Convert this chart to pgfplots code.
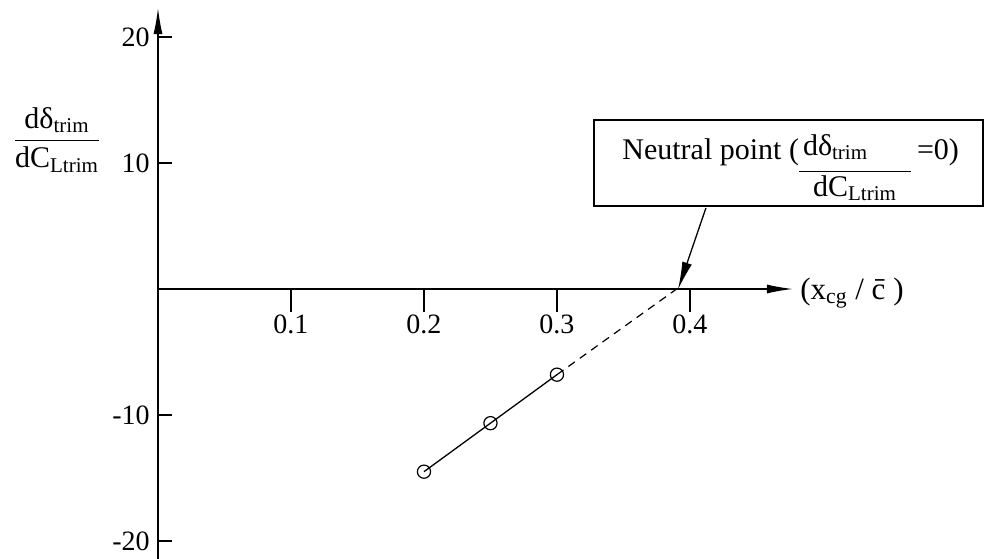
\documentclass[border=0pt]{standalone}
\usepackage{pgfplots}
\pgfplotsset{compat=1.18}
\usepackage{amsmath}
\usepackage{fontspec}
\setmainfont{Liberation Serif}
\usetikzlibrary{arrows.meta}

\begin{document}
\begin{tikzpicture}
\begin{axis}[
  x=665pt, y=6.3pt,
  xmin=0, xmax=0.4774, ymin=-22.5, ymax=22.30,
  axis lines=middle,
  axis line style={line width=0.65pt, -{Latex[length=13pt,width=4.5pt]}},
  clip=false,
  xtick={0.1,0.2,0.3,0.4}, xticklabels={0.1,0.2,0.3,0.4},
  ytick={-20,-10,10,20}, yticklabels={-20,-10,10,20},
  major tick length=0pt,
  xticklabel style={anchor=north, inner sep=0pt, yshift=-12.5pt, font=\fontsize{14}{16}\selectfont},
  yticklabel style={anchor=east, inner sep=0pt, xshift=-4pt, font=\fontsize{14}{16}\selectfont},
]
% tick marks
\addplot[ycomb, black, line width=0.65pt, no marks, forget plot] coordinates {(0.1,-1.83) (0.2,-1.83) (0.3,-1.83) (0.4,-1.83)};
\addplot[xcomb, black, line width=0.65pt, no marks, forget plot] coordinates {(0.0105,-20) (0.0105,-10) (0.0105,10) (0.0105,20)};
% data
\addplot[black, line width=0.65pt, mark=o, mark size=3.3pt, mark options={solid, line width=0.6pt}] coordinates {(0.2,-14.5) (0.25,-10.65) (0.3,-6.8)};
\addplot[black, line width=0.6pt, dash pattern=on 4pt off 3pt, no marks] coordinates {(0.3,-6.8) (0.39,0)};
% annotation box
\draw[line width=0.6pt] (axis cs:0.3278,13.41) rectangle (axis cs:0.6203,6.59);
\node[anchor=base west, inner sep=0pt, font=\fontsize{15}{17}\selectfont] at (axis cs:0.3489,10.3)
  {Neutral point (\raisebox{2pt}{\begin{tabular}[t]{@{}l@{}}\hspace{2pt}dδ\textsubscript{trim}\\[3pt]\hline\makebox[56pt]{dC\textsubscript{Ltrim}}\end{tabular}}\hspace{3pt}=0)};
\draw[line width=0.65pt, -{Latex[length=14pt,width=5pt]}] (axis cs:0.4120,6.43) -- (axis cs:0.391,-0.05);
% y label
\node[inner sep=0pt, font=\fontsize{15}{17}\selectfont] at (axis cs:-0.0759,11.83)
  {\(\dfrac{\text{dδ}_{\text{trim}}}{\text{dC}_{\text{Ltrim}}}\)};
% x label
\node[anchor=west, inner sep=0pt, font=\fontsize{15.5}{17}\selectfont] at (axis cs:0.4827,-0.3)
  {(x\textsubscript{cg} / \={c} )};
\coordinate (bbBL) at (axis cs:-0.1188,-21.43);
\coordinate (bbTR) at (axis cs:0.6211,22.937);
\end{axis}
\pgfresetboundingbox
\useasboundingbox (bbBL) rectangle (bbTR);
\end{tikzpicture}
\end{document}
